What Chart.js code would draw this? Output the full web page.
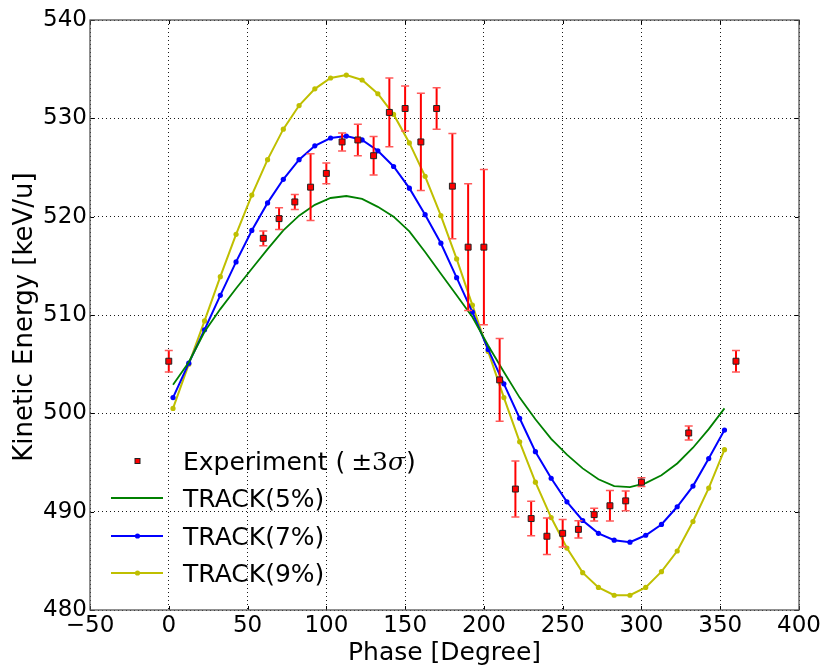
<!DOCTYPE html>
<html>
<head>
<meta charset="utf-8">
<script src="https://cdn.jsdelivr.net/npm/chart.js@4/dist/chart.umd.min.js"></script>
<style>
  html, body { margin: 0; padding: 0; background: #fff; }
  #wrap { width: 827px; height: 666px; position: relative; }
</style>
</head>
<body>
<div id="wrap"><canvas id="c" width="827" height="666"></canvas></div>
<script>
// ---------- data ----------
const expPhase  = [0, 60, 70, 80, 90, 100, 110, 120, 130, 140, 150, 160, 170, 180, 190, 200, 210, 220, 230, 240, 250, 260, 270, 280, 290, 300, 330, 360];
const expEnergy = [505.3, 517.8, 519.8, 521.5, 523.0, 524.4, 527.6, 527.8, 526.2, 530.6, 531.0, 527.6, 531.0, 523.1, 516.9, 516.9, 503.4, 492.3, 489.3, 487.5, 487.8, 488.2, 489.7, 490.6, 491.1, 493.0, 498.0, 505.3];
const expError  = [1.1, 0.75, 1.1, 0.76, 3.4, 1.05, 0.92, 1.6, 1.95, 3.5, 2.3, 4.95, 2.1, 5.35, 6.45, 7.9, 4.2, 2.85, 1.75, 1.85, 1.4, 0.88, 0.64, 1.55, 1.0, 0.45, 0.7, 1.1];

const simPhase = [2.7, 12.7, 22.7, 32.7, 42.7, 52.7, 62.7, 72.7, 82.7, 92.7, 102.7, 112.7, 122.7, 132.7, 142.7, 152.7, 162.7, 172.7, 182.7, 192.7, 202.7, 212.7, 222.7, 232.7, 242.7, 252.7, 262.7, 272.7, 282.7, 292.7, 302.7, 312.7, 322.7, 332.7, 342.7, 352.7];
const track5 = [502.9, 505.2, 508.3, 510.6, 512.7, 514.7, 516.7, 518.6, 520.1, 521.2, 521.9, 522.1, 521.8, 521.0, 520.0, 518.5, 516.4, 514.2, 512.0, 509.8, 506.9, 504.2, 501.6, 499.4, 497.4, 495.8, 494.4, 493.3, 492.6, 492.5, 492.9, 493.7, 494.9, 496.5, 498.4, 500.5];
const track7 = [501.6, 505.1, 508.5, 512.0, 515.4, 518.6, 521.4, 523.8, 525.8, 527.2, 528.0, 528.2, 527.8, 526.7, 525.1, 522.9, 520.2, 517.3, 513.8, 510.3, 506.5, 503.0, 499.5, 496.1, 493.4, 491.0, 489.1, 487.8, 487.1, 486.9, 487.6, 488.7, 490.5, 492.6, 495.4, 498.3];
const track9 = [500.5, 505.0, 509.4, 513.9, 518.2, 522.2, 525.8, 528.9, 531.3, 533.0, 534.1, 534.4, 533.9, 532.5, 530.4, 527.5, 524.1, 520.1, 515.7, 511.0, 506.3, 501.6, 497.1, 493.0, 489.4, 486.3, 483.8, 482.3, 481.5, 481.5, 482.3, 483.9, 486.0, 489.0, 492.4, 496.3];

const xTicks = [-50, 0, 50, 100, 150, 200, 250, 300, 350, 400];
const yTicks = [480, 490, 500, 510, 520, 530, 540];

const seriesNames = ['Experiment', 'TRACK(5%)', 'TRACK(7%)', 'TRACK(9%)'];
const xTitle = 'Phase [Degree]';
const yTitle = 'Kinetic Energy [keV/u]';

// ---------- styles ----------
const FONT = "'DejaVu Sans', 'Bitstream Vera Sans', sans-serif";
const GREEN = '#008000', BLUE = '#0000ff', YELLOW = '#bfbf00', RED = '#ff0000';

const pts = (xs, ys) => xs.map((x, i) => ({ x: x, y: ys[i] }));

// error bars drawn through the scales
const errorBars = {
  id: 'errorBars',
  beforeDatasetDraw(chart, args) {
    if (args.index !== 0) return;
    const { ctx, scales: { x, y } } = chart;
    ctx.save();
    expPhase.forEach((p, i) => {
      const px = x.getPixelForValue(p);
      const y1 = y.getPixelForValue(expEnergy[i] + expError[i]);
      const y2 = y.getPixelForValue(expEnergy[i] - expError[i]);
      ctx.strokeStyle = RED;
      ctx.lineWidth = 2;
      ctx.beginPath(); ctx.moveTo(px, y1); ctx.lineTo(px, y2); ctx.stroke();
      ctx.strokeStyle = '#ff5a5a';
      ctx.lineWidth = 1.5;
      ctx.beginPath();
      ctx.moveTo(px - 4, y1); ctx.lineTo(px + 4, y1);
      ctx.moveTo(px - 4, y2); ctx.lineTo(px + 4, y2);
      ctx.stroke();
    });
    ctx.restore();
  }
};

// frame, inward ticks, axis titles, legend
const decorations = {
  id: 'decorations',
  afterDraw(chart) {
    const { ctx, chartArea: a, scales: { x, y } } = chart;
    ctx.save();
    // inward tick marks
    ctx.strokeStyle = '#000';
    ctx.lineWidth = 1;
    ctx.beginPath();
    xTicks.forEach(v => {
      const px = Math.round(x.getPixelForValue(v)) + 0.5;
      ctx.moveTo(px, a.bottom); ctx.lineTo(px, a.bottom - 4);
      ctx.moveTo(px, a.top); ctx.lineTo(px, a.top + 4);
    });
    yTicks.forEach(v => {
      const py = Math.round(y.getPixelForValue(v)) + 0.5;
      ctx.moveTo(a.left, py); ctx.lineTo(a.left + 4, py);
      ctx.moveTo(a.right, py); ctx.lineTo(a.right - 4, py);
    });
    ctx.stroke();
    // frame
    ctx.strokeStyle = '#555';
    ctx.lineWidth = 1.3;
    ctx.strokeRect(a.left, a.top, a.right - a.left, a.bottom - a.top);

    // axis titles
    ctx.fillStyle = '#000';
    ctx.font = '25px ' + FONT;
    ctx.textAlign = 'center';
    ctx.textBaseline = 'alphabetic';
    ctx.fillText(xTitle, (a.left + a.right) / 2, 660);
    ctx.save();
    ctx.translate(32, (a.top + a.bottom) / 2 + 2);
    ctx.rotate(-Math.PI / 2);
    ctx.font = '26px ' + FONT;
    ctx.fillText(yTitle, 0, 0);
    ctx.restore();

    // legend
    const lx0 = 111, lx1 = 163, lxm = 137.5, tx = 183;
    const rows = [461, 498, 536, 573];
    const LF = 25;
    ctx.textAlign = 'left';
    ctx.font = LF + 'px ' + FONT;
    const capOff = 0.365 * LF;
    // experiment marker
    ctx.fillStyle = RED;
    ctx.strokeStyle = '#222';
    ctx.lineWidth = 1;
    ctx.fillRect(lxm - 2.5, rows[0] - 2.5, 5, 5);
    ctx.strokeRect(lxm - 2.5, rows[0] - 2.5, 5, 5);
    ctx.fillStyle = '#000';
    let cx = tx;
    const t1 = seriesNames[0] + ' (';
    ctx.fillText(t1, cx, rows[0] + capOff);
    cx += ctx.measureText(t1).width + 6;
    ctx.font = LF + "px 'DejaVu Serif', serif";
    ctx.fillText('±3', cx, rows[0] + capOff);
    cx += ctx.measureText('±3').width;
    ctx.font = 'italic ' + LF + "px 'DejaVu Serif', serif";
    ctx.fillText('σ', cx, rows[0] + capOff);
    cx += ctx.measureText('σ').width + 1;
    ctx.font = LF + 'px ' + FONT;
    ctx.fillText(')', cx, rows[0] + capOff);
    // line entries
    const lineCols = [GREEN, BLUE, YELLOW];
    const markers = [false, true, true];
    for (let k = 0; k < 3; k++) {
      const yy = rows[k + 1];
      ctx.strokeStyle = lineCols[k];
      ctx.lineWidth = k === 0 ? 1.8 : 2;
      ctx.beginPath(); ctx.moveTo(lx0, yy); ctx.lineTo(lx1, yy); ctx.stroke();
      if (markers[k]) {
        ctx.fillStyle = lineCols[k];
        ctx.beginPath(); ctx.arc(lxm, yy, 2.6, 0, Math.PI * 2); ctx.fill();
      }
      ctx.fillStyle = '#000';
      ctx.fillText(seriesNames[k + 1], tx, yy + capOff);
    }
    ctx.restore();
  }
};

new Chart(document.getElementById('c'), {
  type: 'line',
  data: {
    datasets: [
      {
        label: seriesNames[0],
        data: pts(expPhase, expEnergy),
        showLine: false,
        pointStyle: 'rect',
        pointRadius: 4.2,
        pointBackgroundColor: RED,
        pointBorderColor: '#222',
        pointBorderWidth: 1,
        borderColor: RED,
        backgroundColor: RED
      },
      {
        label: seriesNames[1],
        data: pts(simPhase, track5),
        borderColor: GREEN,
        borderWidth: 1.8,
        pointRadius: 0,
        tension: 0,
        fill: false
      },
      {
        label: seriesNames[2],
        data: pts(simPhase, track7),
        borderColor: BLUE,
        backgroundColor: BLUE,
        borderWidth: 2,
        pointRadius: 2.6,
        pointBackgroundColor: BLUE,
        pointBorderWidth: 0,
        tension: 0,
        fill: false
      },
      {
        label: seriesNames[3],
        data: pts(simPhase, track9),
        borderColor: YELLOW,
        backgroundColor: YELLOW,
        borderWidth: 2,
        pointRadius: 2.6,
        pointBackgroundColor: YELLOW,
        pointBorderWidth: 0,
        tension: 0,
        fill: false
      }
    ]
  },
  options: {
    responsive: false,
    animation: false,
    devicePixelRatio: 1,
    layout: { padding: { top: 20, right: 28, left: 0, bottom: 0 } },
    plugins: {
      legend: { display: false },
      tooltip: { enabled: false },
      title: { display: false }
    },
    scales: {
      x: {
        type: 'linear',
        min: -50, max: 400,
        afterBuildTicks: s => { s.ticks = xTicks.map(v => ({ value: v })); },
        afterFit: s => { s.height = 56; },
        ticks: {
          font: { family: FONT, size: 23 },
          color: '#000',
          padding: 2,
          maxRotation: 0,
          callback: v => (v < 0 ? '\u2212' + Math.abs(v) : String(v))
        },
        grid: { color: 'rgba(0,0,0,0.9)', lineWidth: 1, drawTicks: false },
        border: { display: false, dash: [1, 3] }
      },
      y: {
        type: 'linear',
        min: 480, max: 540,
        afterBuildTicks: s => { s.ticks = yTicks.map(v => ({ value: v })); },
        afterFit: s => { s.width = 90; },
        ticks: {
          font: { family: FONT, size: 23 },
          color: '#000',
          padding: 3
        },
        grid: { color: 'rgba(0,0,0,0.9)', lineWidth: 1, drawTicks: false },
        border: { display: false, dash: [1, 3] }
      }
    }
  },
  plugins: [errorBars, decorations]
});
</script>
</body>
</html>
